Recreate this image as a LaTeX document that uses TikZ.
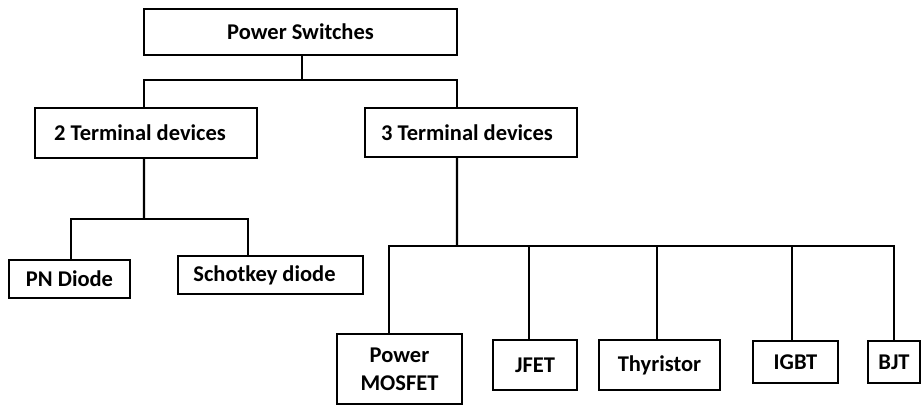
\documentclass[tikz,border=0pt]{standalone}
\usepackage{fontspec}
\setmainfont{Carlito}
\usepackage{tikz}
\tikzset{
    box/.style={draw, line width=1.6pt, align=center, inner sep=0pt,
        font=\fontsize{16}{18}\selectfont\bfseries},
    dims/.style 2 args={minimum width=#1*0.025cm, minimum height=#2*0.025cm},
    link/.style={line width=1.5pt}
}
\begin{document}
\begin{tikzpicture}[x=0.025cm, y=-0.025cm]
    \useasboundingbox[fill=white] (0,0) rectangle (922,406);

    % Top
    \node[box, dims={313}{46}] (ps) at (300.5,32) {Power Switches};

    % Level 1
    \node[box, dims={222}{50}] (t2) at (146,133) {2 Terminal devices\hspace{0.3cm}};
    \node[box, dims={212}{49}] (t3) at (471,132.5) {3 Terminal devices\hspace{0.2cm}};

    % 2 terminal devices
    \node[box, dims={121}{38}] (pn) at (69.5,279) {PN Diode};
    \node[box, dims={185}{38}] (sd) at (270.5,275) {Schotkey diode\hspace{0.3cm}};

    % 3 terminal devices
    \node[box, dims={125}{70}] (mos) at (399.5,369) {Power\\[2pt]MOSFET};
    \node[box, dims={84}{50}] (jfet) at (535,365) {JFET};
    \node[box, dims={121}{50}] (thy) at (659.5,365) {Thyristor};
    \node[box, dims={85}{42}] (igbt) at (795.5,362) {IGBT};
    \node[box, dims={52}{42}] (bjt) at (894,362) {BJT};

    % Buses
    \coordinate (bus1) at (302,80);
    \coordinate (bus2) at (144,219);
    \coordinate (bus3) at (457,246);

    % Connectors
    \draw[link] (ps.south -| bus1) -- (bus1);
    \draw[link] ([xshift=-0.05cm]t2.north) |- (bus1) -| ([xshift=-0.35cm]t3.north);
    \draw[link] ([xshift=-0.05cm]t2.south) -- (bus2);
    \draw[link] ([xshift=0.04cm]pn.north) |- (bus2) -| ([xshift=-0.56cm]sd.north);
    \draw[link] ([xshift=-0.35cm]t3.south) -- (bus3);
    \draw[link] ([xshift=-0.26cm]mos.north) |- (bus3) -| (bjt.north);
    \foreach \n/\dx in {jfet/-0.15, thy/-0.06, igbt/-0.09}
        \draw[link] ([xshift=\dx cm]\n.north) -- ([xshift=\dx cm]\n.north |- bus3);
\end{tikzpicture}
\end{document}
